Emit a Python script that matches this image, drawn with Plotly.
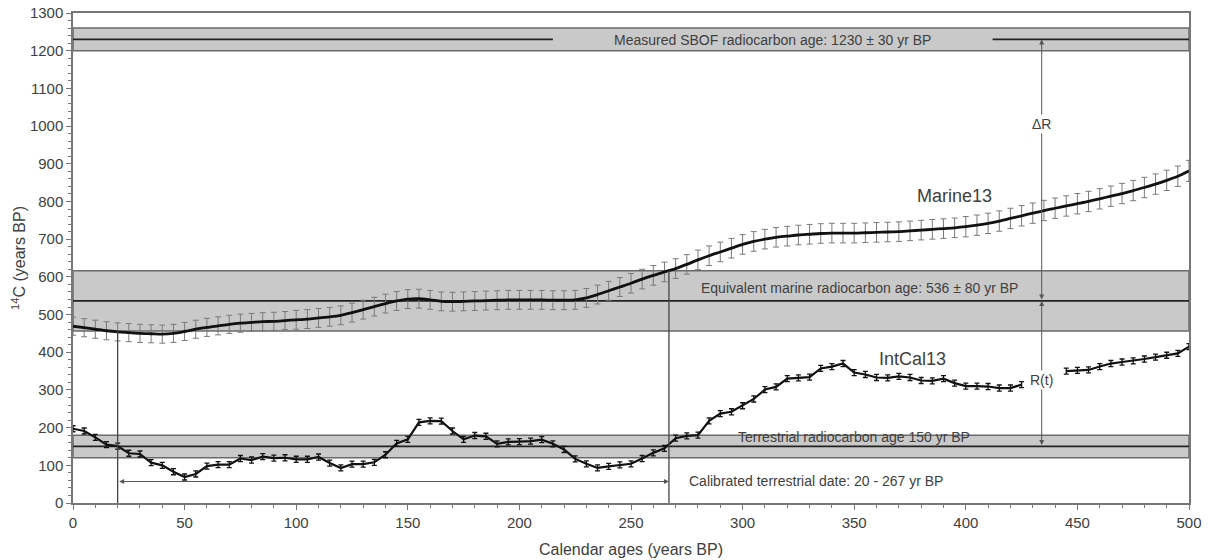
import plotly.graph_objects as go

# ---------------- data ----------------
marine_x = list(range(0, 501, 5))
marine_y = [469, 465, 461, 457, 454, 452, 450, 449, 448, 450,
            455, 461, 466, 470, 474, 477, 479, 481, 482, 484,
            486, 488, 491, 494, 498, 505, 513, 521, 529, 536,
            541, 542, 539, 535, 534, 535, 536, 537, 538, 539,
            539, 539, 539, 538, 538, 539, 544, 553, 563, 573,
            583, 594, 604, 613, 622, 633, 645, 656, 666, 676,
            686, 694, 700, 705, 708, 711, 713, 715, 716, 716,
            716, 717, 718, 719, 720, 722, 724, 726, 728, 730,
            733, 737, 742, 748, 755, 762, 769, 776, 782, 788,
            794, 800, 807, 814, 821, 829, 837, 846, 856, 867,
            881]
marine_err = [24, 24, 24, 24, 24, 24, 24, 24, 24, 24,
              24, 24, 24, 24, 24, 24, 24, 24, 24, 24,
              25, 25, 25, 25, 25, 25, 25, 25, 25, 25,
              25, 25, 25, 25, 25, 25, 25, 25, 25, 25,
              25, 25, 25, 25, 25, 25, 25, 25, 25, 25,
              26, 26, 26, 26, 26, 26, 26, 26, 26, 26,
              26, 26, 26, 26, 26, 26, 26, 26, 26, 26,
              26, 26, 26, 26, 26, 26, 26, 26, 26, 26,
              27, 27, 27, 27, 27, 27, 27, 27, 27, 27,
              27, 27, 27, 27, 27, 27, 27, 27, 27, 27,
              28]

intcal_x = list(range(0, 426, 5)) + list(range(445, 501, 5))
intcal_y = [197, 191, 174, 155, 151, 132, 130, 107, 100, 83,
            69, 77, 98, 102, 102, 118, 114, 123, 119, 120,
            116, 116, 122, 106, 93, 103, 103, 108, 128, 158,
            169, 214, 218, 217, 191, 169, 179, 177, 157, 162,
            163, 164, 168, 157, 142, 117, 104, 93, 97, 101,
            104, 118, 133, 145, 172, 178, 180, 218, 237, 242,
            258, 276, 301, 308, 330, 332, 334, 357, 362, 370,
            346, 341, 333, 332, 336, 333, 325, 324, 330, 318,
            310, 310, 309, 305, 305, 314,
            350, 352, 353, 362, 370, 374, 377, 382, 387, 392, 397, 415]
intcal_err = [8] * len(intcal_y)

sbof_age, sbof_err = 1230, 30
marine_eq_age, marine_eq_err = 536, 80
terr_age, terr_err = 150, 30
cal_lo, cal_hi = 20, 267
delta_r_x = 434

x_ticks = list(range(0, 501, 50))
y_ticks = list(range(0, 1301, 100))

# ---------------- figure ----------------
GRAY_TXT = "#404040"
BAND_FILL = "#c9c9c9"
BAND_EDGE = "#6a6a6a"
FONT = "Liberation Sans, Arial, sans-serif"

fig = go.Figure()

n1 = len(list(range(0, 426, 5)))
for xs, ys, es in [(intcal_x[:n1], intcal_y[:n1], intcal_err[:n1]),
                   (intcal_x[n1:], intcal_y[n1:], intcal_err[n1:])]:
    fig.add_trace(go.Scatter(
        x=xs, y=ys, mode="lines",
        line=dict(color="#111111", width=2.2),
        error_y=dict(type="data", array=es, color="#111111", thickness=1.3, width=2.5),
        showlegend=False, hoverinfo="skip"))

fig.add_trace(go.Scatter(
    x=marine_x, y=marine_y, mode="lines",
    line=dict(color="#111111", width=2.8, shape="spline", smoothing=0.8),
    error_y=dict(type="data", array=marine_err, color="#7a7a7a", thickness=1, width=3),
    showlegend=False, hoverinfo="skip"))

shapes = []
for c, e in [(sbof_age, sbof_err), (marine_eq_age, marine_eq_err), (terr_age, terr_err)]:
    shapes.append(dict(type="rect", xref="x", yref="y", x0=0, x1=500, y0=c - e, y1=c + e,
                       fillcolor=BAND_FILL, line=dict(color=BAND_EDGE, width=1.5), layer="below"))
shapes.append(dict(type="line", xref="x", yref="y", x0=0, x1=215, y0=sbof_age, y1=sbof_age,
                   line=dict(color="#222222", width=1.8), layer="below"))
shapes.append(dict(type="line", xref="x", yref="y", x0=412, x1=500, y0=sbof_age, y1=sbof_age,
                   line=dict(color="#222222", width=1.8), layer="below"))
shapes.append(dict(type="line", xref="x", yref="y", x0=0, x1=500, y0=marine_eq_age, y1=marine_eq_age,
                   line=dict(color="#222222", width=1.8), layer="below"))
shapes.append(dict(type="line", xref="x", yref="y", x0=0, x1=500, y0=terr_age, y1=terr_age,
                   line=dict(color="#222222", width=1.8), layer="below"))
shapes.append(dict(type="line", xref="x", yref="y", x0=cal_lo, x1=cal_lo, y0=0,
                   y1=marine_eq_age - marine_eq_err, line=dict(color="#444444", width=1.3)))
shapes.append(dict(type="line", xref="x", yref="y", x0=cal_hi, x1=cal_hi, y0=0,
                   y1=marine_eq_age + marine_eq_err, line=dict(color="#444444", width=1.3)))

annotations = []
ARW = "#555555"
def dbl_arrow(x0, y0, x1, y1):
    annotations.append(dict(x=x1, y=y1, ax=x0, ay=y0, xref="x", yref="y", axref="x", ayref="y",
                            text="", showarrow=True, arrowhead=2, arrowsize=1, arrowwidth=1,
                            arrowside="end+start", arrowcolor=ARW, startarrowhead=2, startarrowsize=1))

dbl_arrow(delta_r_x, marine_eq_age, delta_r_x, sbof_age)
dbl_arrow(delta_r_x, terr_age, delta_r_x, marine_eq_age)
dbl_arrow(cal_lo, 57, cal_hi, 57)

def label(x, y, text, size=14, xanchor="center", bg=None):
    d = dict(x=x, y=y, xref="x", yref="y", text=text, showarrow=False, xanchor=xanchor,
             yanchor="middle", font=dict(family=FONT, size=size, color=GRAY_TXT))
    if bg:
        d["bgcolor"] = bg
    annotations.append(d)

label(313.5, 1229, "Measured SBOF radiocarbon age: 1230 ± 30 yr BP")
label(352.5, 571, "Equivalent marine radiocarbon age: 536 ± 80 yr BP")
label(350, 176, "Terrestrial radiocarbon age 150 yr BP")
label(275, 59, "Calibrated terrestrial date: 20 - 267 yr BP", xanchor="left")
label(395, 815, "Marine13", size=18)
label(376, 382, "IntCal13", size=18)
label(delta_r_x, 1005, "ΔR", size=14, bg="white")
label(delta_r_x, 327, "R(t)", size=14, bg="white")

axis_common = dict(showline=True, linecolor="#777777", linewidth=1.5, mirror=True,
                   ticks="outside", tickcolor="#777777", ticklen=5, tickwidth=1,
                   showgrid=False, zeroline=False, automargin=False,
                   tickfont=dict(family=FONT, size=15, color=GRAY_TXT))

fig.update_layout(
    width=1208, height=560,
    margin=dict(l=73, r=19, t=13, b=57),
    paper_bgcolor="white", plot_bgcolor="white",
    shapes=shapes, annotations=annotations,
    xaxis=dict(range=[0, 500], tickvals=x_ticks, **axis_common,
               minor=dict(dtick=10, ticks="outside", ticklen=3, tickcolor="#777777"),
               title=dict(text="Calendar ages (years BP)", standoff=14,
                          font=dict(family=FONT, size=16, color=GRAY_TXT))),
    yaxis=dict(range=[0, 1300], tickvals=y_ticks, **axis_common,
               minor=dict(dtick=20, ticks="outside", ticklen=3, tickcolor="#777777"),
               title=dict(text="<sup>14</sup>C (years BP)", standoff=0,
                          font=dict(family=FONT, size=16, color=GRAY_TXT))),
)

# remove the page's default body margin so the figure sits at the window origin
fig.write_html("out.html", config={"displayModeBar": False},
               post_script="document.body.style.margin='0';document.body.style.overflow='hidden';")
